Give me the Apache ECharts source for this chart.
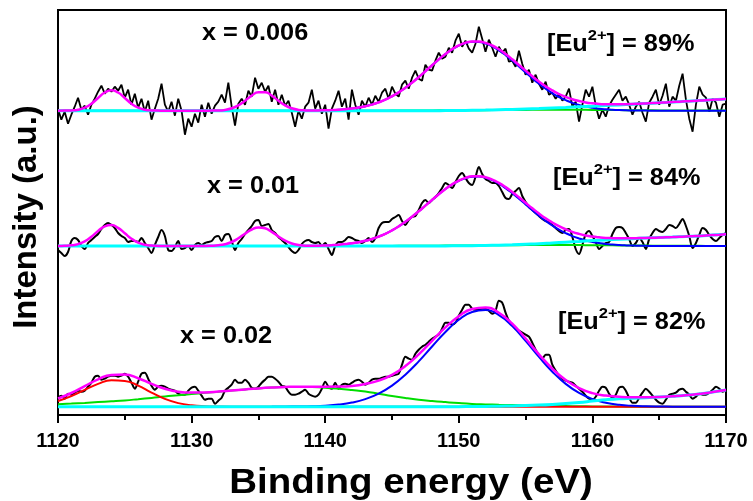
<!DOCTYPE html>
<html>
<head>
<meta charset="utf-8">
<script src="https://cdn.jsdelivr.net/npm/echarts@6/dist/echarts.min.js"></script>
<style>
html,body{margin:0;padding:0;background:#fff;}
#chart{width:753px;height:501px;}
</style>
</head>
<body>
<div id="chart"></div>
<script>
// ---- axis ----
const xTicks = [1120, 1130, 1140, 1150, 1160, 1170];
const yRange = [0, 405];
// vertical offsets of the three stacked spectra (x = 0.02, 0.01, 0.006)
const baselineOffsets = [8.3, 169, 304.3];

// sampling grids (eV)
const energyQuarter = []; for (let i = 0; i <= 200; i++) energyQuarter.push(1120 + i * 0.25);
const energyHalf = []; for (let i = 0; i <= 100; i++) energyHalf.push(1120 + i * 0.5);
const energyOne = []; for (let i = 0; i <= 50; i++) energyOne.push(1120 + i);

// ---- x = 0.006 (top) ----
const topMeasured = [
 2,-9,-1,-13,-4,4,13,1,5,-4, 6,12,19,25,17,22,19,24,20,26, 13,21,6,17,3,12,-1,10,-9,2,
 12,27,6,-1,9,-5,12,0,-24,-8, -16,-3,-12,6,-6,8,-3,5,9,16, 8,28,4,-15,7,12,6,20,14,33,
 22,28,19,25,9,21,6,16,5,
 10,-2,-16,0,-8,4,8,21,2,10, -3,6,-18,2,10,20,4,12,-9,21, 6,-4,10,
 4,13,6,15,9,18,22,12,24,17, 14,26,30,22,33,40,32,30,46,41, 40,50,58,52,54,63,58,70,77,64, 70,62,58,
 67,84,72,59,71,63,54,64,58,62,49,
 50,44,60,47,36,41,28,36,27,21, 29,16,18,12,17,10,14,22,4,9, -11,6,21,14,24,5,-8,1,-6,5,
 11,16,21,10,14,6,-4,4,9,-2, -11,8,14,21,6,15,27,4,14,10, 25,37,11,-8,-21,6,24,16,13,-1,
 12,8,-6,6,7
];
const topEnvelope = [
 0,0.1,0.3,1.0,3.0,7.0,12.7,18.2,20.5,18.2, 12.7,7.0,3.0,1.0,0.3,0.1,0,0,0,0,
 0,0,0,0.1,0.2,0.8,2.4,5.4,10.0,15.1, 18.5,18.5,15.1,10.0,5.4,2.4,0.8,0.3,0.2,0.3,
 0.4,0.7,1.0,1.5,2.2,3.1,4.4,6.1,8.3,11.0, 14.4,18.3,22.9,28.0,33.6,39.5,45.4,51.3,56.7,61.5,
 65.3,67.9,69.3,69.2,67.8,65.2,61.4,56.7,51.4,45.7, 40.1,34.4,29.1,24.4,20.3,16.7,13.8,11.4,9.7,8.3,
 7.4,6.8,6.5,6.4,6.4,6.5,6.7,7.0,7.3,7.6, 7.9,8.3,8.6,9.0,9.4,9.7,10.1,10.5,10.9,11.3,11.7
];
const topEu2 = [ // from 1140 eV, 0.5 eV step
 0.4,0.65,0.99,1.48,2.18,3.14,4.44,6.13,8.32,11.04, 14.4,18.3,22.9,28.0,33.6,39.5,45.4,51.2,56.6,61.3,
 65.1,67.6,68.9,68.7,67.2,64.4,60.4,55.6,50.1,44.2, 38.3,32.4,26.9,21.9,17.5,13.7,10.5,7.8,5.8,4.1,
 2.9,2.0,1.37,0.91,0.59,0.38,0.24,0.15,0.09,0.05, 0.03,0,0,0,0,0,0,0,0,0,0
];
const topBackground = [
 0,0,0,0,0,0,0,0,0,0, 0,0,0,0,0,0,0,0,0,0, 0,0,0,0,0,0,0,0,0,
 0.1,0.2,0.4,0.6,0.95,1.3,1.75,2.2,2.75,3.3,3.9,4.5,5.15,5.8,6.5,7.2,7.9,8.6,9.35,10.1,10.9,11.7
];
const topSatellite = [
 0,0,0,0,0,0,0,0,0,0, 0,0,0,0,0,0,0,0,0,0, 0,0,0,0,0,
 0.1,0.15,0.2,0.3,0.35,0.4,0.5,0.55,0.65,0.7,0.8,0.85,0.9,0.9,0.85,0.8,0.7,0.6,0.5,0.4,0.3,0.2,0.15,0.1,0.1,0.1
];

// ---- x = 0.01 (middle) ----
const midMeasured = [
 -4,-7,-10,-6,5,8,6,0,-3,3, 6,9,12,17,21,23,21,18,13,10, 8,4,5,5,4,8,3,-2,-7,1,
 9,16,10,-4,-5,-1,5,-3,-2,0, -4,1,3,1,3,4,5,9,10,5, 11,12,5,-4,3,7,12,16,20,25,
 26,20,21,22,16,13,9,6,3,
 -1,-5,-7,-4,2,5,6,4,3,4, 0,3,-3,-9,0,4,4,6,9,8, 6,5,3,5,8,
 4,8,18,23,24,24,27,29,31,25, 21,26,29,30,36,43,46,43,46,49, 53,58,63,61,58,64,70,73,68,63,
 61,69,79,72,67,65,63,63,60,54, 48,47,
 52,55,58,50,44,39,36,33,30,27, 25,24,21,18,15,13,16,17,9,-3, -8,1,12,15,10,4,-3,0,3,4,
 12,18,19,18,13,7,0,3,8,4, -3,7,13,17,15,14,17,21,20,18, 22,27,20,10,-2,3,11,18,16,11,
 7,5,8,11,13
];
const midEnvelope = [
 0,0.2,0.65,1.9,4.7,9.3,15.0,19.7,20.9,18.1, 12.7,7.3,3.4,1.3,0.4,0.1,0,0,0,0,
 0,0,0,0.2,0.7,1.8,4.0,7.7,12.3,16.5, 18.6,17.7,14.1,9.5,5.3,2.5,1.0,0.34,0.34,0.37,
 0.57,0.87,1.3,1.9,2.7,3.8,5.2,7.05,9.4,12.2, 15.6,19.6,24.2,29.2,34.7,40.4,46.1,51.8,57.1,61.65,
 65.4,68.1,69.65,69.8,68.7,66.45,63.1,58.9,54.0,48.75, 43.2,37.75,32.5,27.7,23.5,19.8,16.7,14.1,12.1,10.5,
 9.4,8.65,8.1,7.84,7.74,7.72,7.76,7.91,8.06,8.25, 8.46,8.69,8.92,9.2,9.5,9.8,10.1,10.5,10.9,11.3,11.7
];
const midEu2 = [ // from 1140 eV, 0.5 eV step
 0.57,0.87,1.29,1.88,2.69,3.78,5.2,7.05,9.38,12.2, 15.6,19.6,24.2,29.2,34.7,40.4,46.1,51.8,57.0,61.5,
 65.2,67.8,69.3,69.4,68.2,65.8,62.3,57.9,52.8,47.3, 41.5,35.8,30.3,25.1,20.5,16.4,12.9,9.9,7.5,5.5,
 4.0,2.9,2.0,1.39,0.94,0.62,0.41,0.26,0.16,0.1, 0.06,0.04,0.02,0,0,0,0,0,0,0,0
];
const midBackground = [
 0,0,0,0,0,0,0,0,0,0, 0,0,0,0,0,0,0,0,0,0, 0,0,0,0,0,0,0,0,0,
 0.1,0.2,0.35,0.5,0.8,1.2,1.7,2.2,3.0,3.8,4.6,5.4,6.1,6.8,7.35,7.9,8.4,8.9,9.5,10.1,10.9,11.7
];
const midSatellite = [
 0,0,0,0,0,0,0,0,0,0, 0,0,0,0,0,0,0,0,0,0, 0,0,0,0,0,
 0.1,0.2,0.25,0.3,0.4,0.5,0.55,0.65,0.7,0.8,0.9,0.95,1.0,0.95,0.9,0.8,0.7,0.6,0.5,0.4,0.3,0.25,0.2,0.15,0.1,0.1
];

// ---- x = 0.02 (bottom) ----
const botMeasured = [
 9,11,8,13,12,14,16,15,16,20, 24,30,31,27,28,30,31,31,30,31, 33,30,24,18,25,33,34,28,21,17,
 20,21,20,18,17,16,13,12,12,16, 19,20,16,11,7,8,8,3,6,9, 16,19,22,27,24,24,27,24,19,18,
 20,24,27,30,30,28,25,21,20,
 15,12,12,13,15,17,13,11,10,12, 18,25,20,18,24,
 18,22,23,22,24,26,27,25,22,24, 27,28,28,29,30,30,31,32,33,42, 50,48,47,53,57,60,62,65,68,70,
 72,78,84,84,82,84,91,97,102,102, 98,97,97,98,98,96,93,96,106,104, 94,86,82,78,
 76,74,72,70,64,57,51,48,52,52, 42,36,31,28,26,25,24,21,18,15, 11,8,7,10,16,20,19,13,9,12,
 19,20,16,9,4,4,9,14,18,15, 11,7,4,3,7,12,13,14,17,18, 15,12,8,10,13,12,12,14,17,20,
 18,15,17
];
const botEnvelope = [
 8.2,13.7,20.6,27.4,31.8,32.1,28.5,22.9,18.0,15.0, 14.1,14.3,15.1,16.2,17.3,18.3,19.1,19.7,20.0,20.0,
 20.0,20.1,20.8,22.8,26.1,31.8,40.7,52.3,65.9,79.3, 90.5,97.7,99.2,94.0,83.0,68.2,52.4,38.1,26.6,18.55,
 13.6,11.1,9.9,9.4,9.4,9.7,10.45,11.4,12.8,14.6,16.7
];
const botEu2 = [ // from 1136 eV, 1 eV step
 0.03,0.07,0.18,0.44,0.99,2.1,4.1,7.6,13.1,21.1, 32.0,45.3,60.2,74.7,86.9,94.7,96.6,91.6,80.6,65.8,
 49.8,35.0,22.8,13.8,7.7,4.0,1.9,0.87,0.36,0.14, 0.05,0,0,0,0
];
const botEu3 = [
 5.7,10.6,16.8,22.8,26.4,25.8,21.0,14.1,7.8,3.6, 1.4,0.43,0.1,0,0,0,0,0,0,0,
 0,0,0,0,0,0,0,0,0,0, 0,0,0,0,0,0,0,0,0,0, 0,0,0,0,0,0,0,0,0,0,0
];
const botSatellite = [
 2.5,3.1,3.8,4.6,5.4,6.3,7.5,8.8,10.2,11.4, 12.7,13.9,15.0,16.2,17.3,18.3,19.1,19.6,19.8,19.6,
 19.0,18.0,16.7,15.2,13.0,10.7,8.7,7.0,5.7,4.6, 3.6,2.8,2.3,1.9,1.6,1.3,1.0,0.8,0.6,0.45,
 0.3,0.2,0.1,0.05,0,0,0,0,0,0,0
];
const botBackground = [
 0,0,0,0,0,0,0,0,0,0, 0,0,0,0,0,0,0,0,0,0, 0,0,0,0,0,0,0,0,0,0, 0,
 0.2,0.3,0.5,0.8,1.1,1.6,2.3,3.2,4.3,5.6,6.9,7.9,8.5,9.0,9.6,10.4,11.4,12.8,14.6,16.7
];

// ---- annotation texts ----
const sampleLabels = ['x = 0.02', 'x = 0.01', 'x = 0.006'];
const eu2Ratios = ['82%', '84%', '89%'];

const COLORS = {data:'#000000', fit:'#ff00ff', eu2:'#0000ff', eu3:'#ff0000', sat:'#00dd00', bg:'#00ffff'};

function line(xs, ys, off, color, width, z, smooth) {
  return {
    type: 'line',
    data: xs.map((x, i) => [x, ys[i] == null ? null : ys[i] + off]),
    showSymbol: false, symbol: 'none', smooth: smooth || false,
    lineStyle: {color: color, width: width}, z: z, silent: true, animation: false
  };
}

const series = [];
const [offB, offM, offT] = baselineOffsets;
// measured spectra
series.push(line(energyQuarter, topMeasured, offT, COLORS.data, 1.8, 1, false));
series.push(line(energyQuarter, midMeasured, offM, COLORS.data, 2, 1, 0.3));
series.push(line(energyQuarter, botMeasured, offB, COLORS.data, 2, 1, 0.3));
// satellites (green)
series.push(line(energyOne, topSatellite, offT, COLORS.sat, 2, 2, true));
series.push(line(energyOne, midSatellite, offM, COLORS.sat, 2, 2, true));
series.push(line(energyOne, botSatellite, offB, COLORS.sat, 2, 2, true));
// Eu3+ (red)
series.push(line(energyOne, botEu3, offB, COLORS.eu3, 2, 3, true));
// Eu2+ (blue)
series.push(line(energyHalf.slice(40), topEu2, offT, COLORS.eu2, 2, 4, true));
series.push(line(energyHalf.slice(40), midEu2, offM, COLORS.eu2, 2, 4, true));
series.push(line(energyOne.slice(16), botEu2, offB, COLORS.eu2, 2, 4, true));
// background (cyan)
series.push(line(energyOne, topBackground, offT, COLORS.bg, 3, 5, true));
series.push(line(energyOne, midBackground, offM, COLORS.bg, 3, 5, true));
series.push(line(energyOne, botBackground, offB, COLORS.bg, 3, 5, true));
// envelope (magenta)
series.push(line(energyHalf, topEnvelope, offT, COLORS.fit, 2.5, 6, true));
series.push(line(energyHalf, midEnvelope, offM, COLORS.fit, 2.5, 6, true));
series.push(line(energyOne, botEnvelope, offB, COLORS.fit, 2.5, 6, true));

const FONT = '"Liberation Sans", Arial, sans-serif';
function label(x, y, text) {
  return {type:'text', x:x, y:y, scaleX:1.1, z:100,
    style:{text:text, font:'bold 23px ' + FONT, fill:'#000', textAlign:'left', textVerticalAlign:'middle', align:'left', verticalAlign:'middle'}};
}
function euLabel(x, y, pct) {
  return {type:'text', x:x, y:y, scaleX:1.1, z:100,
    style:{text:'[Eu{sup|2+}] = ' + pct, font:'bold 23px ' + FONT, fill:'#000', lineHeight:34,
      textAlign:'left', textVerticalAlign:'middle', align:'left', verticalAlign:'middle',
      rich:{sup:{fontSize:15, fontWeight:'bold', fontFamily:FONT, fill:'#000', color:'#000', verticalAlign:'top', lineHeight:34}}}};
}

const chart = echarts.init(document.getElementById('chart'), null, {renderer:'canvas'});
chart.setOption({
  backgroundColor:'#fff',
  animation:false,
  grid:{left:58, right:27, top:10, bottom:86, show:true, borderColor:'#000', borderWidth:2, backgroundColor:'transparent'},
  xAxis:{
    type:'value', min:xTicks[0], max:xTicks[xTicks.length-1], interval:xTicks[1]-xTicks[0],
    axisLine:{show:true, onZero:false, lineStyle:{color:'#000', width:2}},
    axisTick:{show:true, inside:false, length:8, lineStyle:{color:'#000', width:2}},
    minorTick:{show:true, splitNumber:2, length:5, lineStyle:{color:'#000', width:2}},
    axisLabel:{color:'#000', fontSize:20, fontWeight:'bold', fontFamily:FONT, margin:16,
      formatter: function (v) { return String(v); }},
    splitLine:{show:false}, minorSplitLine:{show:false}
  },
  yAxis:{
    type:'value', min:yRange[0], max:yRange[1],
    axisLine:{show:true, lineStyle:{color:'#000', width:2}},
    axisTick:{show:false}, axisLabel:{show:false}, splitLine:{show:false}
  },
  series: series,
  graphic:[
    label(202, 33.5, sampleLabels[2]),
    label(207, 186.5, sampleLabels[1]),
    label(180, 336.5, sampleLabels[0]),
    euLabel(547, 45, eu2Ratios[2]),
    euLabel(553, 179, eu2Ratios[1]),
    euLabel(558, 323, eu2Ratios[0]),
    {type:'text', x:411, y:483, scaleX:1.1, z:100,
      style:{text:'Binding energy (eV)', font:'bold 35px ' + FONT, fill:'#000', textAlign:'center', textVerticalAlign:'middle', align:'center', verticalAlign:'middle'}},
    {type:'text', x:27, y:217, rotation:Math.PI/2, z:100,
      style:{text:'Intensity (a.u.)', font:'bold 33px ' + FONT, fill:'#000', textAlign:'center', textVerticalAlign:'middle', align:'center', verticalAlign:'middle'}}
  ]
});
</script>
</body>
</html>
